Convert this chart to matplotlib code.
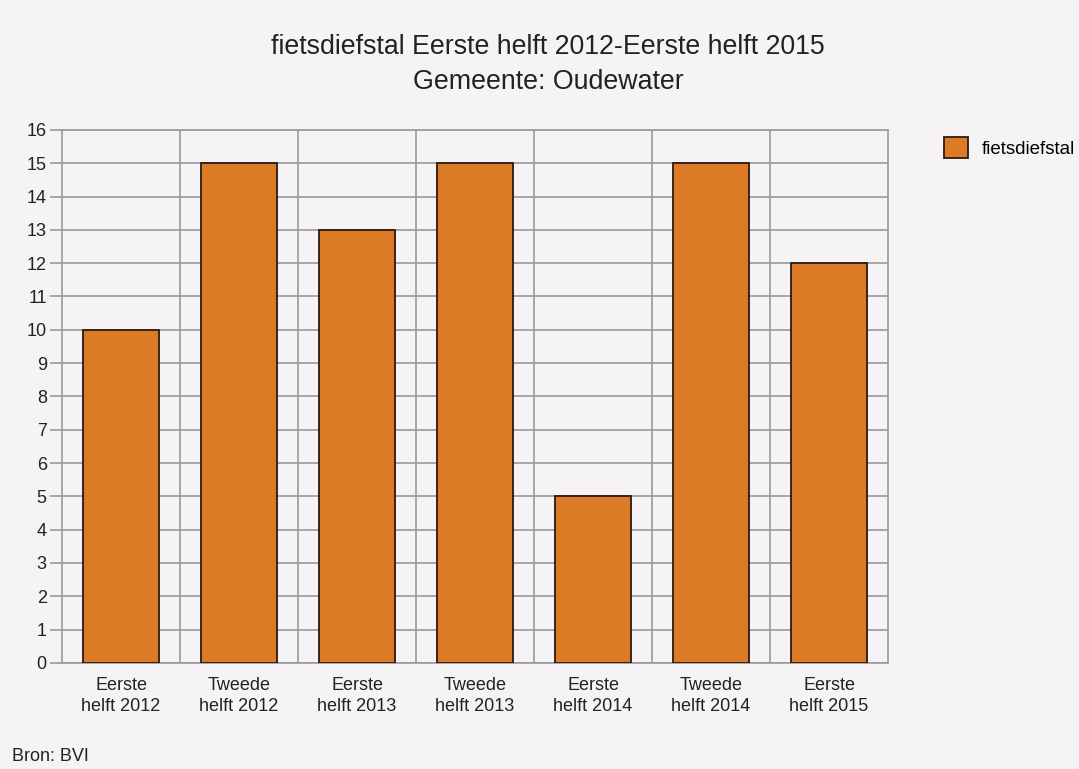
import matplotlib.pyplot as plt
import numpy as np

plt.rcParams['font.family'] = ['Liberation Sans', 'DejaVu Sans']

# Data
categories = ["Eerste\nhelft 2012", "Tweede\nhelft 2012", "Eerste\nhelft 2013",
              "Tweede\nhelft 2013", "Eerste\nhelft 2014", "Tweede\nhelft 2014",
              "Eerste\nhelft 2015"]
values = [10, 15, 13, 15, 5, 15, 12]

bg = "#f6f3f7"
bar_color = "#dd7a26"
grid_color = "#9a9a9a"

fig = plt.figure(figsize=(10.79, 7.69), dpi=100, facecolor=bg)
ax = fig.add_axes([0.0575, 0.138, 0.7655, 0.693], facecolor=bg)

x = np.arange(len(categories))
ax.bar(x, values, width=0.65, color=bar_color, edgecolor="#2a1a10", linewidth=1.3,
       zorder=3, label="fietsdiefstal")

ax.set_xlim(-0.5, len(categories) - 0.5)
ax.set_ylim(0, 16)
ax.set_yticks(range(0, 17))
ax.set_xticks(x)
ax.set_xticklabels(categories, fontsize=13, color="#222222", linespacing=1.35)

# verticale lijnen tussen de categorieën
for b in np.arange(0.5, len(categories) - 0.5, 1):
    ax.axvline(b, color=grid_color, linewidth=1.2, zorder=1)
ax.yaxis.grid(True, color=grid_color, linewidth=1.2, zorder=1)
ax.set_axisbelow(True)

for s in ax.spines.values():
    s.set_color(grid_color)
    s.set_linewidth(1.2)

ax.tick_params(axis="y", length=9, color=grid_color, width=1.2, labelsize=13,
               labelcolor="#222222", pad=2)
ax.tick_params(axis="x", length=0, pad=10)

fig.text(0.508, 0.916, "fietsdiefstal Eerste helft 2012-Eerste helft 2015\nGemeente: Oudewater",
         ha="center", va="center", fontsize=19.3, color="#222222", linespacing=1.45)

fig.text(0.011, 0.01, "Bron: BVI", fontsize=13, color="#222222")

fig.legend(loc="upper left", bbox_to_anchor=(0.868, 0.831), frameon=False,
           fontsize=13.5, handlelength=1.3, handleheight=1.3, handletextpad=0.7,
           borderaxespad=0)

fig.savefig("out.png", dpi=100, facecolor=bg)
